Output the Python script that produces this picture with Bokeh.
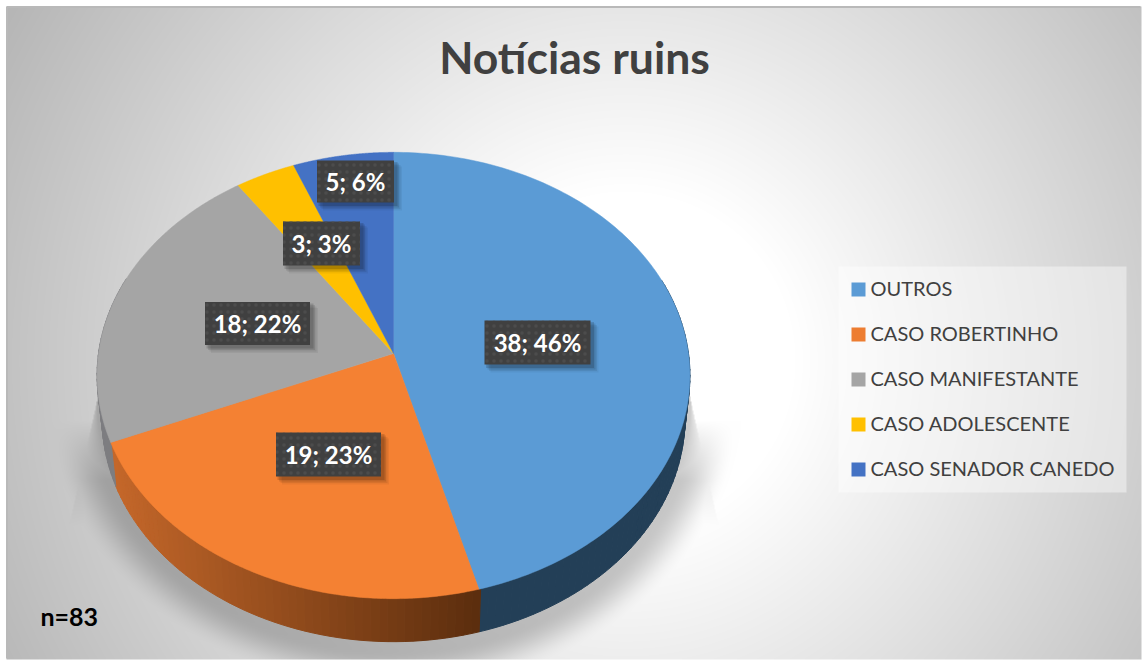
import numpy as np
from bokeh.plotting import figure
from bokeh.models import Range1d
from bokeh.core.properties import value
from bokeh.embed import file_html
from bokeh.resources import INLINE

# ---- data
categories = ["OUTROS", "CASO ROBERTINHO", "CASO MANIFESTANTE", "CASO ADOLESCENTE", "CASO SENADOR CANEDO"]
counts = [38, 19, 18, 3, 5]
percents = [46, 23, 22, 3, 6]
top_colors = ["#5b9bd5", "#f48133", "#a5a5a5", "#ffc000", "#4472c4"]
legend_colors = ["#5b9bd5", "#ed7d31", "#a5a5a5", "#ffc000", "#4472c4"]
title_text = "Notícias ruins"
note_text = "n=83"

# ---- layout (page pixels)
X0, Y0, W, H = 0, 0, 1144, 663
label_centers = [(537, 342), (328, 454), (257, 323), (321, 243), (355, 181)]
label_sizes = [(106, 44), (105, 44), (105, 43), (77, 44), (77, 42)]
legend_y = [289, 334, 379, 424, 469]

p = figure(width=W, height=H, x_range=Range1d(X0, X0 + W), y_range=Range1d(Y0 + H, Y0),
           toolbar_location=None, output_backend="svg", min_border=0, outline_line_color=None,
           background_fill_color="white", border_fill_color="white")
p.axis.visible = False
p.grid.visible = False


# ---- perspective disc
def disc(theta, cx=393.0, cy=353.0, rx=295.0, ry=221.0, k=0.0986):
    w = 1 + k * np.cos(theta)
    return cx + rx * np.sin(theta) / w, cy - ry * np.cos(theta) / w


# ---- background: radial grey + soft pie shadow
yy, xx = np.mgrid[Y0:Y0 + H, X0:X0 + W].astype(float)
dist = np.hypot(xx - 625, yy - 360)
grey = np.clip(255 - np.clip(dist - 170, 0, None) * 0.135, 0, 255)

r = np.hypot((xx - 393) / 291, (yy - 397) / 245)
d = (r - 1) * 265
t = np.clip((52 - d) / 44, 0, 1)
soft = 0.22 * t * t * (3 - 2 * t)
soft = soft * np.clip((yy - 420) / 60, 0, 1)
half = 297 + np.clip(yy - 400, -60, None) * 20 / 90
u = np.abs(xx - 393) / half
pie_half = 297 * np.sqrt(np.clip(1 - ((yy - 397) / 245) ** 2, 0, 1))
frac = np.clip((np.abs(xx - 393) - pie_half) / np.maximum(half - pie_half, 1), 0, 1)
flare = 0.20 * (1 - 0.6 * frac) * np.clip((yy - 345) / 50, 0, 1) * np.clip((525 - yy) / 55, 0, 1)
flare = np.where((u < 1) & (yy < 525), flare, 0)
shadow = np.maximum(soft, flare)
grey = grey * (1 - shadow)

rgba = np.zeros((H, W, 4), dtype=np.uint8)
g = grey.astype(np.uint8)
rgba[..., 0] = g
rgba[..., 1] = g
rgba[..., 2] = g
rgba[..., 3] = 255
rgba[(xx < 6) | (yy < 6) | (xx > 1140) | (yy > 658)] = [255, 255, 255, 255]
flat = rgba.view(dtype=np.uint32).reshape(H, W)
p.image_rgba(image=[flat], x=X0, y=Y0, dw=W, dh=H)

# ---- pie
cum = np.cumsum([0] + counts) / sum(counts) * 2 * np.pi

# side wall
side_xs, side_ys, side_cols = [], [], []
th = np.radians(np.arange(70, 292, 1.5))
for a, b in zip(th[:-1], th[1:]):
    m = (a + b) / 2
    x1, y1 = disc(np.array([a, b]))
    x2, y2 = disc(np.array([b, a]), cy=396.0, rx=290.0)
    side_xs.append(list(x1) + list(x2))
    side_ys.append(list(y1) + list(y2))
    xm = x1.mean()
    if m < cum[1]:
        c = (35, 63, 87)
    elif m < cum[2]:
        f = np.clip((xm - 115) / (478 - 115), 0, 1)
        c = (int(196 - 104 * f), int(103 - 57 * f), int(42 - 28 * f))
    else:
        c = (125, 125, 128)
    side_cols.append("#%02x%02x%02x" % c)
p.patches(side_xs, side_ys, fill_color=side_cols, line_color=side_cols, line_width=1)

# top faces
xs, ys = [], []
for a, b in zip(cum[:-1], cum[1:]):
    t_arc = np.linspace(a, b, 160)
    x, y = disc(t_arc)
    xs.append([393.0] + list(x))
    ys.append([353.0] + list(y))
p.patches(xs, ys, fill_color=top_colors, line_color=top_colors, line_width=0.5)

# ---- data labels
for (cx, cy), (w, h), n, pc in zip(label_centers, label_sizes, counts, percents):
    for o, al in [(7, 0.05), (5.5, 0.07), (4, 0.10), (2.5, 0.14)]:
        p.rect(cx + o, cy + o, w + 2, h + 2, fill_color="#000000", fill_alpha=al, line_color=None)
    p.rect(cx, cy, w, h, fill_color="#404040", line_color=None,
           hatch_pattern="dot", hatch_color="#4f4f4f", hatch_scale=7, hatch_alpha=0.8)
    p.text([cx], [cy - 0.5], text=["%d; %d%%" % (n, pc)], text_color="white", text_font=value("Lato"),
           text_font_style="bold", text_font_size="24px", text_align="center", text_baseline="middle")

# ---- title / note
p.text([574], [56], text=[title_text], text_color="#404040", text_font=value("Lato"), text_font_style="bold",
       text_font_size="44.5px", text_align="center", text_baseline="middle")
p.text([40], [615], text=[note_text], text_color="#000000", text_font=value("Lato"), text_font_style="bold",
       text_font_size="25px", text_align="left", text_baseline="middle")

# ---- legend
p.rect(982, 379, 288, 226, fill_color="#ffffff", fill_alpha=0.42, line_color=None)
p.rect([858] * 5, legend_y, 14, 14, fill_color=legend_colors, line_color=None)
p.text([870] * 5, [y - 2 for y in legend_y], text=categories, text_color="#404040", text_font=value("Lato"),
       text_font_size="20px", text_align="left", text_baseline="middle")

# ---- frame
p.line([6.5, 6.5, 1140], [658, 6.5, 6.5], line_color="#b9b9b9", line_width=2)

open("out.html", "w").write(file_html(p, INLINE))
